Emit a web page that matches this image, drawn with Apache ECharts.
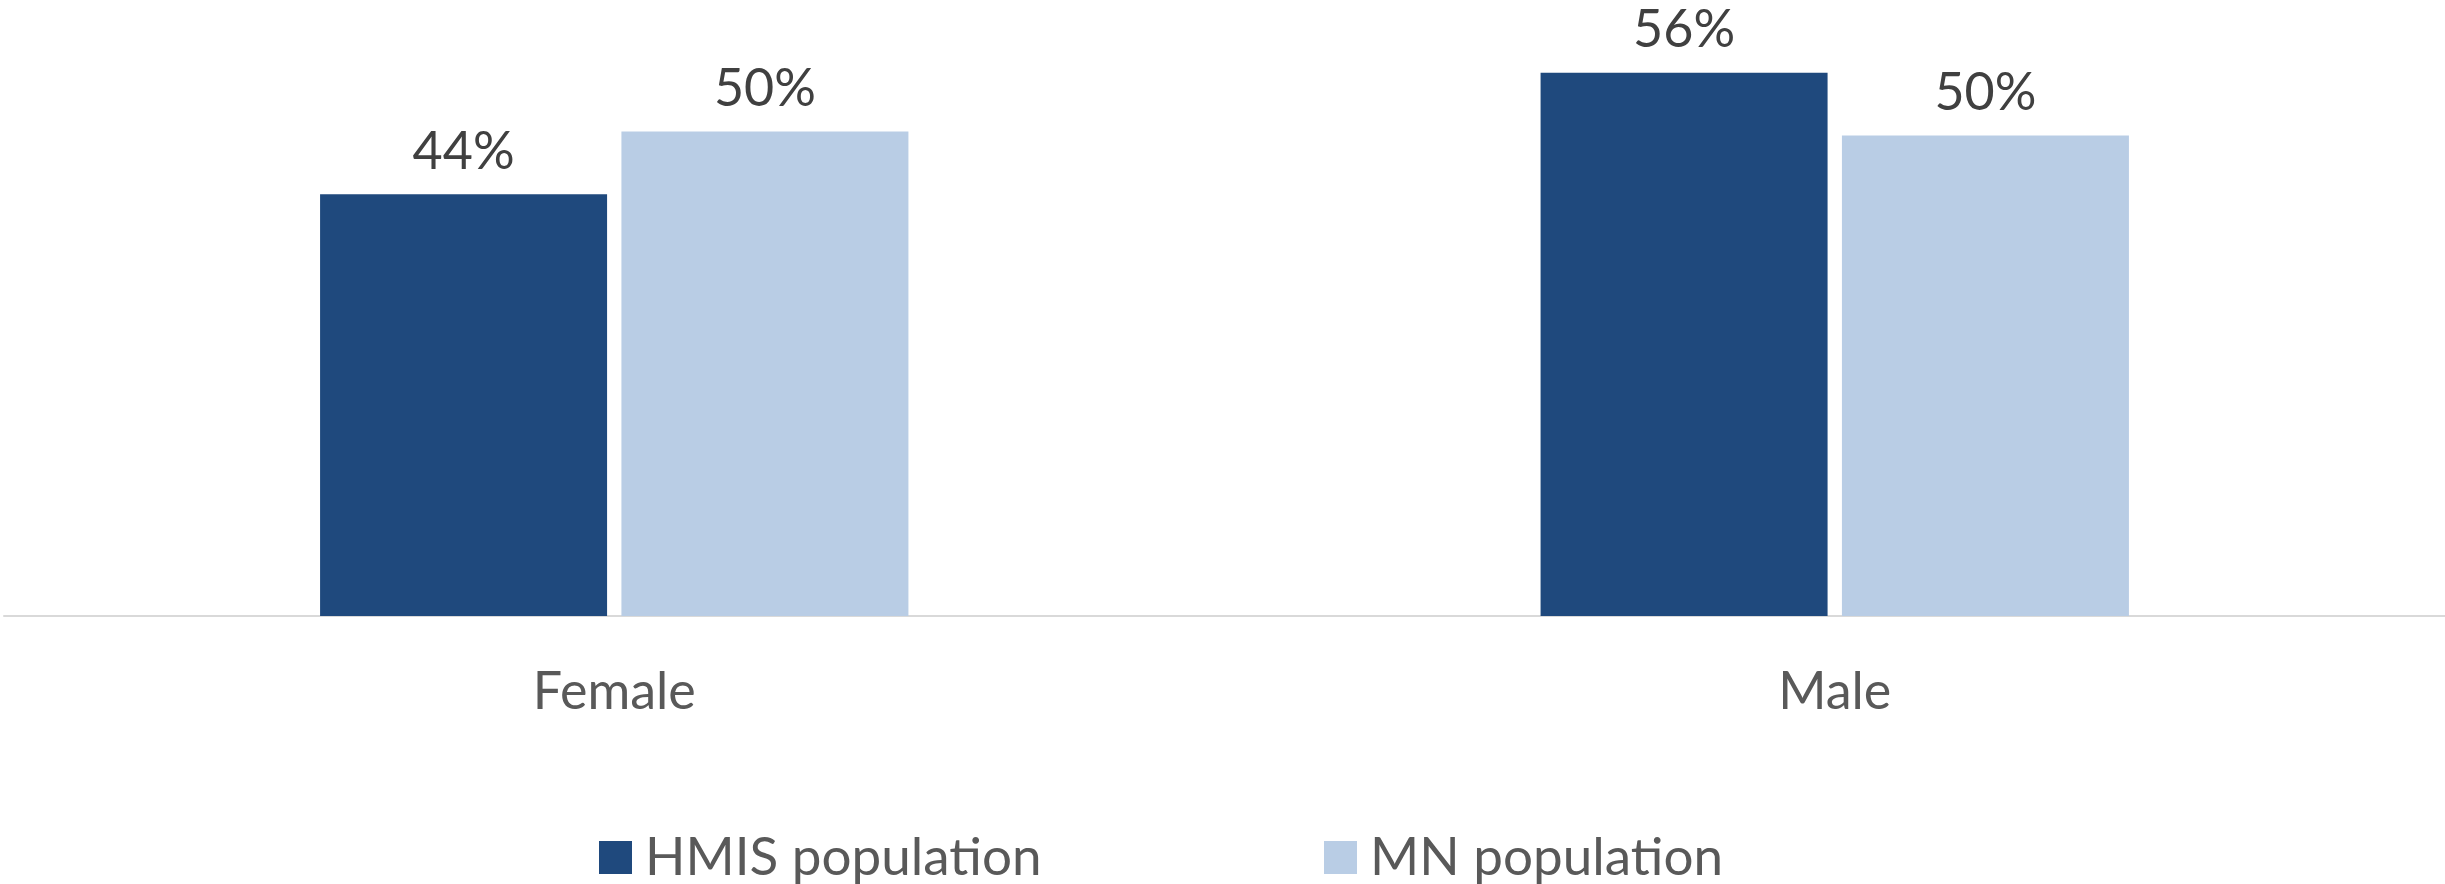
<!DOCTYPE html>
<html>
<head>
<meta charset="utf-8">
<script src="https://cdn.jsdelivr.net/npm/echarts@6/dist/echarts.min.js"></script>
<style>
  html, body { margin: 0; padding: 0; background: #ffffff; }
  #chart { width: 2445px; height: 884px; }
</style>
</head>
<body>
<div id="chart"></div>
<script>
const categories = ['Female', 'Male'];
const hmisValues = [43.7, 56.3];
const mnValues = [50.2, 49.8];
const seriesNames = ['HMIS population', 'MN population'];

const FONT = 'Lato, "Open Sans", sans-serif';
const chart = echarts.init(document.getElementById('chart'), null, { renderer: 'canvas' });

const labelCfg = {
  show: true,
  position: 'top',
  distance: 16,
  color: '#404040',
  fontFamily: FONT,
  fontSize: 52,
  formatter: p => Math.round(p.value) + '%'
};

const legendText = { color: '#595959', fontFamily: FONT, fontSize: 53, padding: [0, 0, 0, 8] };

chart.setOption({
  animation: false,
  backgroundColor: '#ffffff',
  grid: { left: 4, right: -5, top: 37, bottom: 268, containLabel: false },
  legend: [
    {
      data: [seriesNames[0]], left: 594, top: 826,
      itemWidth: 33, itemHeight: 33, itemGap: 0,
      icon: 'rect',
      textStyle: legendText
    },
    {
      data: [seriesNames[1]], left: 1319, top: 826,
      itemWidth: 33, itemHeight: 33, itemGap: 0,
      icon: 'rect',
      textStyle: legendText
    }
  ],
  xAxis: {
    type: 'category',
    data: categories,
    axisLine: { show: true, lineStyle: { color: '#d9d9d9', width: 2 } },
    axisTick: { show: false },
    axisLabel: { color: '#595959', fontFamily: FONT, fontSize: 52, margin: 50 }
  },
  yAxis: {
    type: 'value', min: 0, max: 60,
    show: false,
    splitLine: { show: false }
  },
  series: [
    {
      name: seriesNames[0], type: 'bar', data: hmisValues,
      barWidth: 287, barGap: '5%',
      itemStyle: { color: '#1f497d' },
      label: labelCfg
    },
    {
      name: seriesNames[1], type: 'bar', data: mnValues,
      barWidth: 287, barGap: '5%',
      itemStyle: { color: '#b9cde5' },
      label: labelCfg
    }
  ]
});
</script>
</body>
</html>
